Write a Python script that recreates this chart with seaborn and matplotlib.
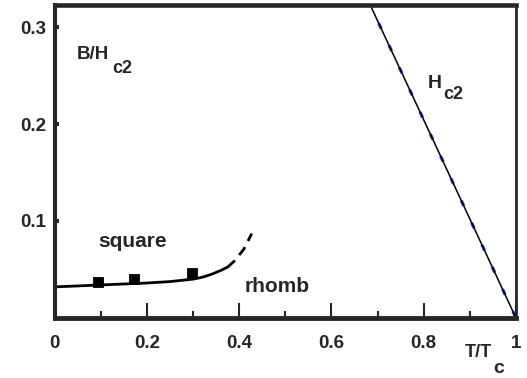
import numpy as np
import pandas as pd
import matplotlib
matplotlib.use("Agg")
import matplotlib.pyplot as plt
import seaborn as sns
from matplotlib.ticker import MultipleLocator

sns.set_style("ticks")
plt.rcParams['font.family'] = ['Liberation Sans', 'DejaVu Sans']
plt.rcParams['font.weight'] = 'bold'

# square-rhomb boundary (solid part and dashed continuation)
t_solid = [0.0, 0.05, 0.10, 0.15, 0.20, 0.25, 0.30, 0.32, 0.34, 0.36, 0.375]
b_solid = [0.032, 0.033, 0.034, 0.035, 0.036, 0.0375, 0.040, 0.042, 0.045, 0.049, 0.0525]
t_dash = [0.375, 0.39, 0.41, 0.427]
b_dash = [0.0525, 0.059, 0.071, 0.087]

# measured points
t_pts = [0.094, 0.171, 0.298]
b_pts = [0.037, 0.040, 0.0463]

# upper critical field line
t_hc2 = [0.68, 1.0]
b_hc2 = [0.327, 0.0]

fig = plt.figure(figsize=(5.27, 3.78), dpi=100)
ax = fig.add_axes([0.104, 0.159, 0.875, 0.828])

sns.lineplot(x=t_solid, y=b_solid, ax=ax, color='black', lw=2.0, sort=False)
sns.lineplot(x=t_dash, y=b_dash, ax=ax, color='black', lw=2.0, sort=False,
             linestyle=(0, (3.5, 2.5)))
sns.lineplot(x=t_hc2, y=b_hc2, ax=ax, color='#2233cc', lw=2.2, sort=False,
             linestyle=(0, (2, 6)))
sns.lineplot(x=t_hc2, y=b_hc2, ax=ax, color='black', lw=1.1, sort=False)
sns.scatterplot(x=t_pts, y=b_pts, ax=ax, marker='s', s=55, color='black',
                edgecolor='black', zorder=5)

ax.set_xlim(0, 1)
ax.set_ylim(0, 0.323)
ax.set_xticks([0, 0.2, 0.4, 0.6, 0.8, 1.0])
ax.set_xticklabels(['0', '0.2', '0.4', '0.6', '0.8', '1'])
ax.xaxis.set_minor_locator(MultipleLocator(0.1))
ax.set_yticks([0.1, 0.2, 0.3])
ax.set_yticklabels(['0.1', '0.2', '0.3'])
ax.tick_params(axis='x', which='major', direction='in', length=11, width=1.5,
               pad=12, labelsize=13.5)
ax.tick_params(axis='x', which='minor', direction='in', length=5, width=1.5)
ax.tick_params(axis='y', direction='in', length=3, width=3, pad=6, labelsize=13.5)
ax.tick_params(top=False, right=False)

ax.spines['top'].set_linewidth(3.3)
ax.spines['bottom'].set_linewidth(3.5)
ax.spines['left'].set_linewidth(2.9)
ax.spines['right'].set_linewidth(2)
ax.set_xlabel('')
ax.set_ylabel('')

ax.text(0.048, 0.267, 'B/H', fontsize=13.5, ha='left', va='baseline')
ax.text(0.124, 0.2527, 'c2', fontsize=13, ha='left', va='baseline')
ax.text(0.8095, 0.2373, 'H', fontsize=14, ha='left', va='baseline')
ax.text(0.842, 0.226, 'c2', fontsize=13, ha='left', va='baseline')
ax.text(0.094, 0.0732, 'square', fontsize=15, ha='left', va='baseline')
ax.text(0.4125, 0.0267, 'rhomb', fontsize=15, ha='left', va='baseline')
ax.text(0.89, -0.0403, 'T/T', fontsize=13, ha='left', va='baseline')
ax.text(0.951, -0.0569, 'c', fontsize=14, ha='left', va='baseline')

fig.savefig('out.png', dpi=100, facecolor='white')
